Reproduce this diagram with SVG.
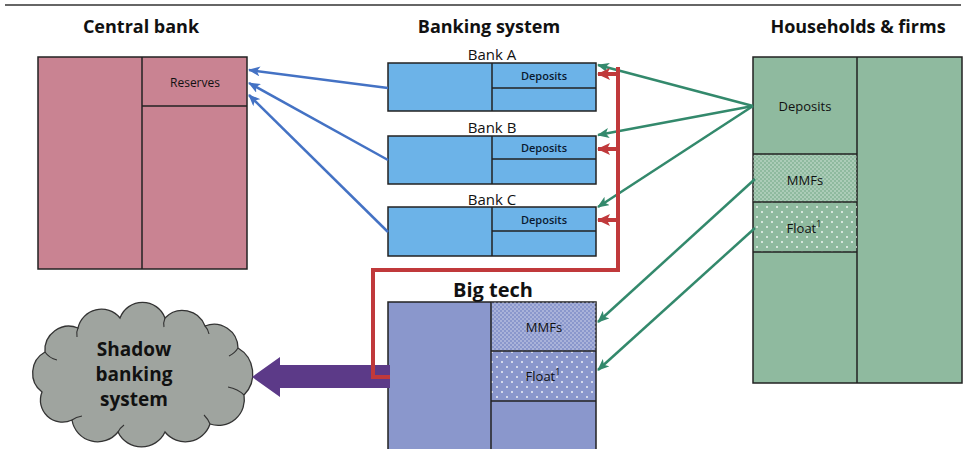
<svg xmlns="http://www.w3.org/2000/svg" width="966" height="449" viewBox="0 0 966 449">
<defs>
<style>
.t{font-family:"Open Sans","Noto Sans","Liberation Sans",sans-serif;fill:#111;text-anchor:middle;dominant-baseline:central}
.title{font-size:18px;font-weight:700}
.big{font-size:20px;font-weight:700}
.cl{font-size:19px;font-weight:700}
.lbl{font-size:15px}
.sm{font-size:12px}
.smb{font-size:11px;font-weight:600;fill:#0a1a30}
.md{font-size:13px}
.box{stroke:#222;stroke-width:1.5}
.cb{fill:#c98392}
.bk{fill:#6cb3e8}
.hh{fill:#8fba9f}
.bt{fill:#8a97cc}
.blue{stroke:#4472c4;stroke-width:2.5;fill:none}
.green{stroke:#33896c;stroke-width:2.5;fill:none}
.red{stroke:#c0393b;stroke-width:4;fill:none}
</style>
<pattern id="dense" width="4" height="4" patternUnits="userSpaceOnUse">
<circle cx="1" cy="1" r="0.8" fill="#fff" fill-opacity="0.6"/>
<circle cx="3" cy="3" r="0.8" fill="#fff" fill-opacity="0.6"/>
</pattern>
<pattern id="sparse" width="10" height="10" patternUnits="userSpaceOnUse">
<circle cx="2" cy="2" r="1" fill="#fff" fill-opacity="0.85"/>
<circle cx="7" cy="7" r="1" fill="#fff" fill-opacity="0.85"/>
</pattern>
<marker id="mb" markerUnits="userSpaceOnUse" markerWidth="12" markerHeight="10" refX="11" refY="5" orient="auto">
<path d="M0,0 L12,5 L0,10 L3,5 Z" fill="#4472c4"/>
</marker>
<marker id="mg" markerUnits="userSpaceOnUse" markerWidth="12" markerHeight="10" refX="11" refY="5" orient="auto">
<path d="M0,0 L12,5 L0,10 L3,5 Z" fill="#33896c"/>
</marker>
<marker id="mr" markerUnits="userSpaceOnUse" markerWidth="13" markerHeight="12" refX="12" refY="6" orient="auto">
<path d="M0,0 L13,6 L0,12 L3,6 Z" fill="#c0393b"/>
</marker>
</defs>
<rect width="966" height="449" fill="#fff"/>
<line x1="5" y1="5" x2="961" y2="5" stroke="#333" stroke-width="1.5"/>

<g id="central-bank">
<text class="t title" x="141" y="26">Central bank</text>
<rect class="box cb" x="38" y="57" width="209" height="212"/>
<line class="box" x1="142" y1="57" x2="142" y2="269"/>
<line class="box" x1="142" y1="106" x2="247" y2="106"/>
<text class="t sm" x="195" y="82">Reserves</text>
</g>

<g id="banking-system">
<text class="t title" x="489" y="26">Banking system</text>
</g>
<g id="bank-a">
<text class="t lbl" x="492" y="54">Bank A</text>
<rect class="box bk" x="388" y="63" width="208" height="48"/>
<line class="box" x1="492" y1="63" x2="492" y2="111"/>
<line class="box" x1="492" y1="88" x2="596" y2="88"/>
<text class="t smb" x="544" y="75">Deposits</text>
</g>
<g id="bank-b">
<text class="t lbl" x="492" y="127">Bank B</text>
<rect class="box bk" x="388" y="136" width="208" height="48"/>
<line class="box" x1="492" y1="136" x2="492" y2="184"/>
<line class="box" x1="492" y1="159" x2="596" y2="159"/>
<text class="t smb" x="544" y="147">Deposits</text>
</g>
<g id="bank-c">
<text class="t lbl" x="492" y="199">Bank C</text>
<rect class="box bk" x="388" y="207" width="208" height="49"/>
<line class="box" x1="492" y1="207" x2="492" y2="256"/>
<line class="box" x1="492" y1="231" x2="596" y2="231"/>
<text class="t smb" x="544" y="219">Deposits</text>
</g>

<g id="households-firms">
<text class="t title" x="858" y="26">Households &amp; firms</text>
<rect class="box hh" x="753" y="57" width="209" height="326"/>
<line class="box" x1="857" y1="57" x2="857" y2="383"/>
<rect x="753" y="154" width="104" height="48" fill="url(#dense)"/>
<rect x="753" y="202" width="104" height="50" fill="url(#sparse)"/>
<line class="box" x1="753" y1="154" x2="857" y2="154"/>
<line class="box" x1="753" y1="202" x2="857" y2="202"/>
<line class="box" x1="753" y1="252" x2="857" y2="252"/>
<text class="t md" x="805" y="106">Deposits</text>
<text class="t md" x="805" y="180">MMFs</text>
<text class="t md" x="804" y="228">Float<tspan font-size="9" dy="-5">1</tspan></text>
</g>

<g id="big-tech">
<text class="t big" x="493" y="289">Big tech</text>
<rect class="box bt" x="388" y="302" width="208" height="152"/>
<rect x="491" y="302" width="105" height="49" fill="url(#dense)"/>
<rect x="491" y="351" width="105" height="50" fill="url(#sparse)"/>
<line class="box" x1="491" y1="302" x2="491" y2="454"/>
<line class="box" x1="491" y1="351" x2="596" y2="351"/>
<line class="box" x1="491" y1="401" x2="596" y2="401"/>
<text class="t md" x="544" y="327">MMFs</text>
<text class="t md" x="543" y="376">Float<tspan font-size="9" dy="-5">1</tspan></text>
</g>

<g id="shadow-banking">
<path d="M45,352 A24,24 0 0 1 78,328 A24,24 0 0 1 120,318 A24,24 0 0 1 165,318 A24,24 0 0 1 205,326 A24,24 0 0 1 238,348 A30,30 0 0 1 244,395 A26,26 0 0 1 210,424 A26,26 0 0 1 165,432 A26,26 0 0 1 118,432 A26,26 0 0 1 72,420 A22,22 0 0 1 42,392 A24,24 0 0 1 45,352 Z" fill="#9fa49f" stroke="#333" stroke-width="1.3"/>
<path d="M45,352 q4,6 12,8 M78,328 q-2,4 -1,9 M165,318 q-2,5 -1,9 M205,326 q3,3 4,8 M238,348 q-3,5 -9,8 M244,395 q-6,-6 -16,-8 M210,424 q-2,-5 -6,-9 M118,432 q2,-4 6,-7 M72,420 q4,-3 10,-4" fill="none" stroke="#333" stroke-width="1.1"/>
<text class="t cl" x="134" y="349">Shadow</text>
<text class="t cl" x="134" y="374">banking</text>
<text class="t cl" x="134" y="399">system</text>
</g>

<g id="connectors">
<polygon points="390,365 280,365 280,357 252,377 280,397 280,388 390,388" fill="#5c3a88"/>
<line class="blue" x1="388" y1="88" x2="249" y2="70" marker-end="url(#mb)"/>
<line class="blue" x1="388" y1="160" x2="249" y2="83" marker-end="url(#mb)"/>
<line class="blue" x1="388" y1="232" x2="249" y2="95" marker-end="url(#mb)"/>
<line class="green" x1="753" y1="106" x2="598" y2="65" marker-end="url(#mg)"/>
<line class="green" x1="753" y1="106" x2="598" y2="135" marker-end="url(#mg)"/>
<line class="green" x1="753" y1="106" x2="598" y2="207" marker-end="url(#mg)"/>
<line class="green" x1="755" y1="179" x2="598" y2="322" marker-end="url(#mg)"/>
<line class="green" x1="755" y1="228" x2="598" y2="370" marker-end="url(#mg)"/>
<path class="red" d="M390,377 H373 V270 H618 V67" stroke-linejoin="miter"/>
<line class="red" x1="618" y1="74" x2="598" y2="74" marker-end="url(#mr)"/>
<line class="red" x1="618" y1="149" x2="598" y2="149" marker-end="url(#mr)"/>
<line class="red" x1="618" y1="220" x2="598" y2="220" marker-end="url(#mr)"/>
</g>
</svg>
